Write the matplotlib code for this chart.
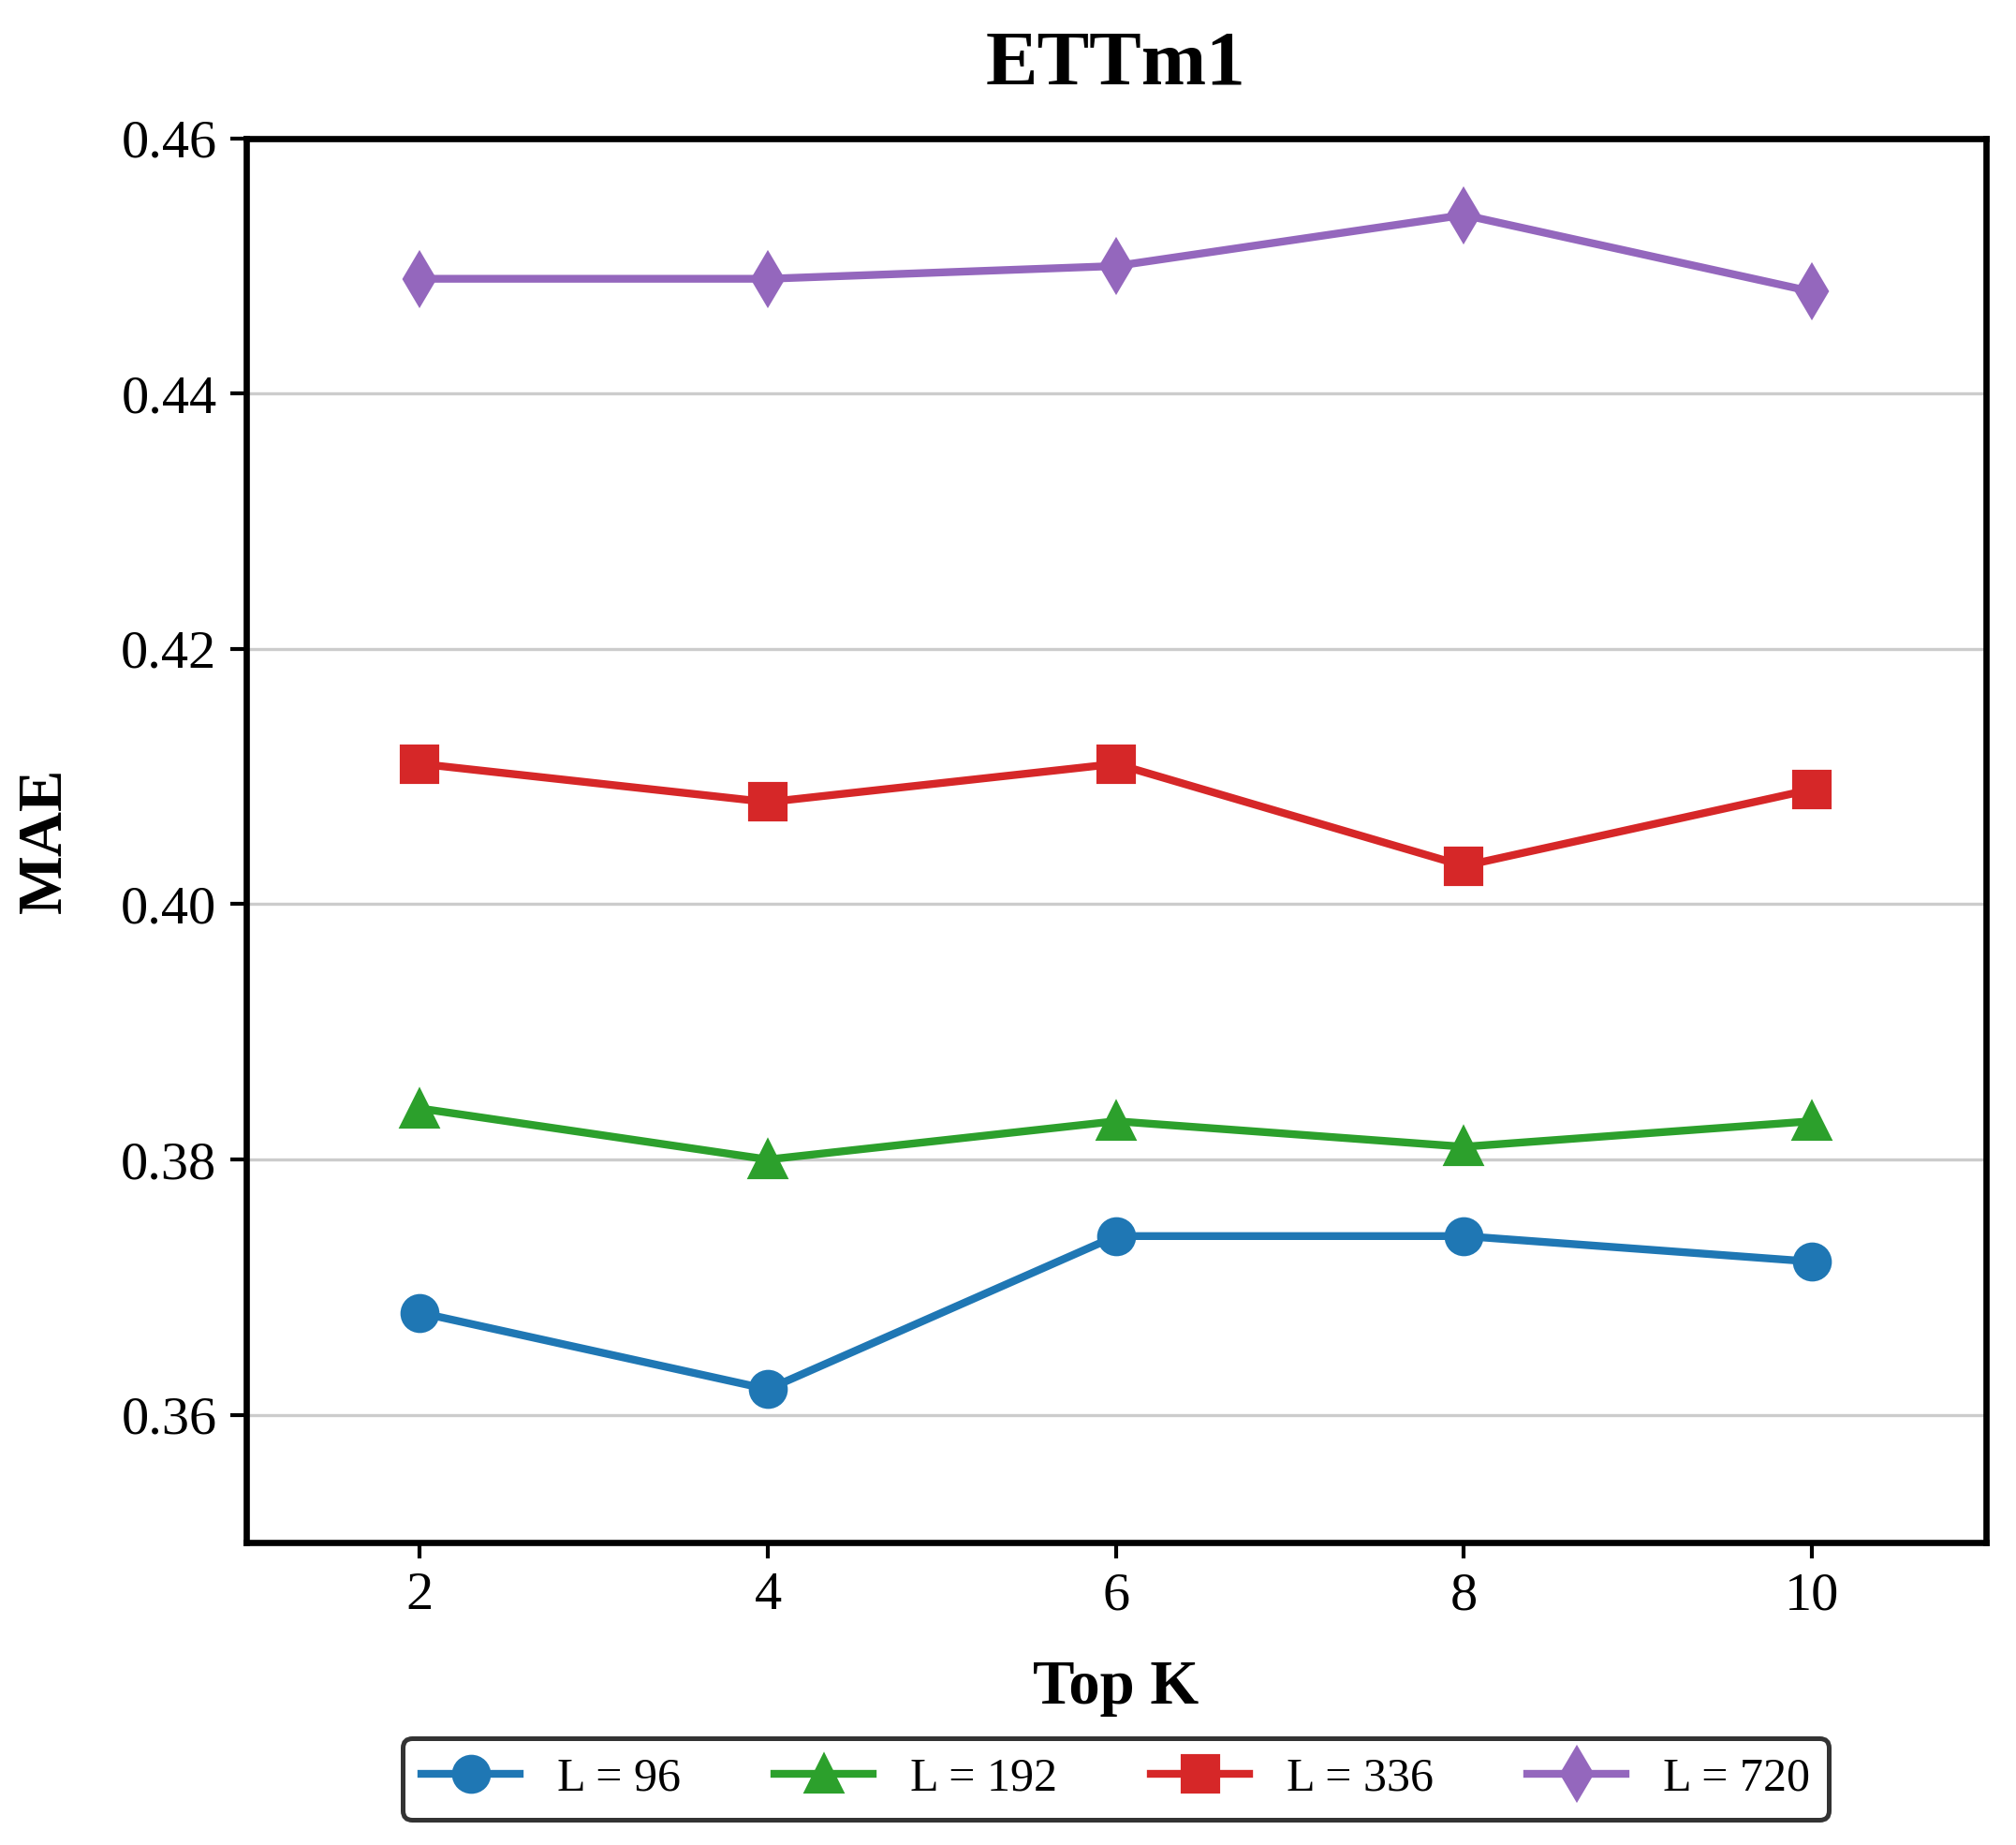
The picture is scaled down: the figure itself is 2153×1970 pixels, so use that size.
import matplotlib
matplotlib.use("Agg")
import matplotlib.pyplot as plt

plt.rcParams['font.family'] = ['Liberation Serif', 'DejaVu Serif']

top_k = [2, 4, 6, 8, 10]
labels = ["L = 96", "L = 192", "L = 336", "L = 720"]
mae_96 = [0.368, 0.362, 0.374, 0.374, 0.372]
mae_192 = [0.384, 0.380, 0.383, 0.381, 0.383]
mae_336 = [0.411, 0.408, 0.411, 0.403, 0.409]
mae_720 = [0.449, 0.449, 0.450, 0.454, 0.448]
series = [mae_96, mae_192, mae_336, mae_720]
colors = ["#1f77b4", "#2ca02c", "#d62728", "#9467bd"]
markers = ["o", "^", "s", "d"]

fig = plt.figure(figsize=(2153/300, 1970/300), dpi=300)
ax = fig.add_axes([0.122, 0.164, 0.863, 0.761])

for vals, lab, c, m in zip(series, labels, colors, markers):
    ax.plot(top_k, vals, color=c, marker=m, lw=2, markersize=9, label=lab)

ax.set_xlim(1, 11)
ax.set_ylim(0.35, 0.46)
ax.set_xticks(top_k)
ax.set_yticks([0.36, 0.38, 0.40, 0.42, 0.44, 0.46])
ax.set_yticklabels(["0.36", "0.38", "0.40", "0.42", "0.44", "0.46"])
ax.tick_params(labelsize=14, width=1, length=4)
ax.grid(axis='y', color='#cccccc', lw=0.8)
ax.set_axisbelow(True)
for s in ax.spines.values():
    s.set_linewidth(1.6)

ax.set_title("ETTm1", fontsize=20, fontweight='bold', pad=14)
ax.set_xlabel("Top K", fontsize=16, fontweight='bold', labelpad=10)
ax.set_ylabel("MAE", fontsize=16, fontweight='bold', labelpad=12)

leg = ax.legend(loc='upper center', bbox_to_anchor=(0.5, -0.123), ncol=4,
                fontsize=12, frameon=True, fancybox=True, edgecolor='#333333',
                handlelength=2.1, handletextpad=0.8, columnspacing=2.0,
                borderpad=0.4)
leg.get_frame().set_linewidth(1.2)
leg.get_frame().set_alpha(1)

fig.savefig("out.png", dpi=300)
